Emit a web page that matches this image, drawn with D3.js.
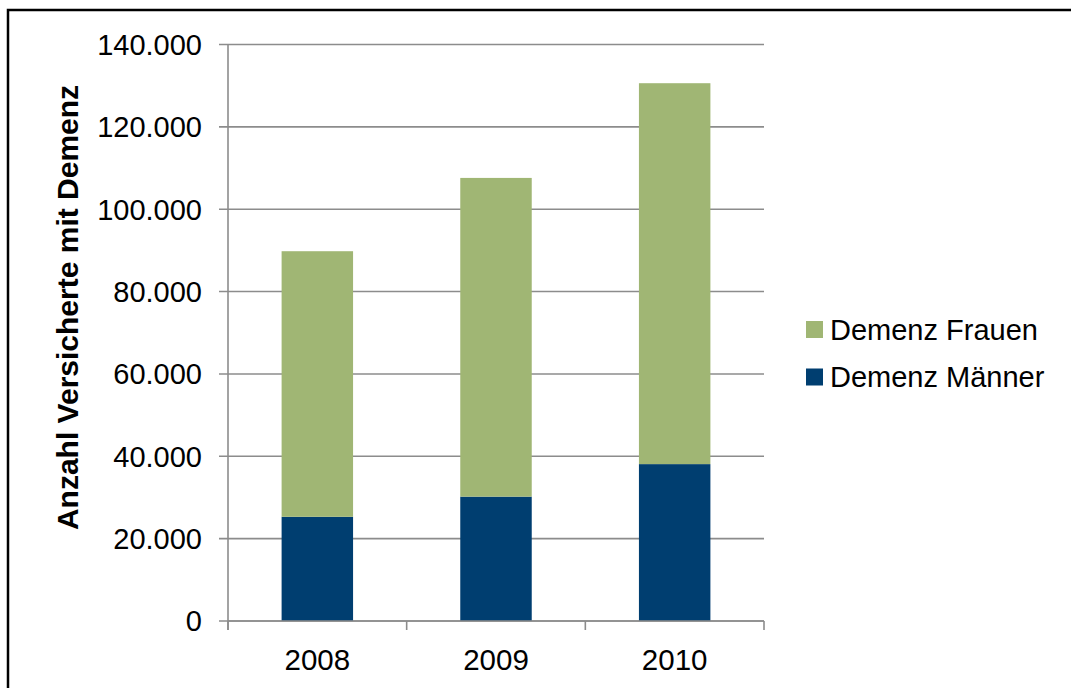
<!DOCTYPE html>
<html><head><meta charset="utf-8">
<script src="https://cdn.jsdelivr.net/npm/d3@7"></script>
<style>body{margin:0;background:#fff;} svg{display:block;font-family:"Liberation Sans",Arial,sans-serif;}</style>
</head><body>
<svg id="c" width="1071" height="688"></svg>
<script>
const years = ["2008","2009","2010"];
const maenner = [25300, 30200, 38100];
const frauen = [64500, 77400, 92500];
const seriesNames = ["Demenz Männer","Demenz Frauen"];
const seriesColors = ["#003E70","#A0B674"];
const yTicks = [0,20000,40000,60000,80000,100000,120000,140000];
const yTitle = "Anzahl Versicherte mit Demenz";

const svg = d3.select("#c");
svg.append("rect").attr("x",8).attr("y",10).attr("width",1080).attr("height",700)
  .attr("fill","#fff").attr("stroke","#000").attr("stroke-width",2.5);

const L=228,R=764,T=44.5,B=621;
const x = d3.scaleBand().domain(years).range([L,R]).paddingInner(0.6).paddingOuter(0.3);
const y = d3.scaleLinear().domain([0,140000]).range([B,T]);
const fmt = d => d===0 ? "0" : d3.format(",")(d).replace(/,/g,".");

// gridlines
svg.append("g").selectAll("line").data(yTicks).join("line")
  .attr("x1",L-9).attr("x2",R).attr("y1",d=>y(d)).attr("y2",d=>y(d))
  .attr("stroke","#8c8c8c").attr("stroke-width",1.6);

// stacked bars
const rows = years.map((yr,i)=>({year:yr,"Demenz Männer":maenner[i],"Demenz Frauen":frauen[i]}));
const stack = d3.stack().keys(seriesNames)(rows);
svg.append("g").selectAll("g").data(stack).join("g")
  .attr("fill",(d,i)=>seriesColors[i])
  .selectAll("rect").data(d=>d).join("rect")
  .attr("x",d=>x(d.data.year)).attr("width",x.bandwidth())
  .attr("y",d=>y(d[1])).attr("height",d=>y(d[0])-y(d[1]));

// axes
svg.append("line").attr("x1",L).attr("x2",L).attr("y1",T).attr("y2",B+9)
  .attr("stroke","#8c8c8c").attr("stroke-width",1.6);
svg.append("line").attr("x1",L).attr("x2",R).attr("y1",B).attr("y2",B)
  .attr("stroke","#8c8c8c").attr("stroke-width",1.6);
const step = x.step();
svg.append("g").selectAll("line").data(d3.range(years.length+1)).join("line")
  .attr("x1",d=>L+d*step).attr("x2",d=>L+d*step).attr("y1",B).attr("y2",B+9)
  .attr("stroke","#8c8c8c").attr("stroke-width",1.6);

// y tick labels
svg.append("g").selectAll("text").data(yTicks).join("text")
  .attr("x",202).attr("y",d=>y(d)).attr("dy","0.36em").attr("text-anchor","end")
  .attr("font-size",29).attr("fill","#000").text(fmt);

// x labels
svg.append("g").selectAll("text").data(years).join("text")
  .attr("x",d=>x(d)+x.bandwidth()/2).attr("y",670).attr("text-anchor","middle")
  .attr("font-size",29.5).attr("fill","#000").text(d=>d);

// y title
svg.append("text").attr("transform","translate(78,307.5) rotate(-90)")
  .attr("text-anchor","middle").attr("font-size",30).attr("font-weight","bold")
  .attr("fill","#000").text(yTitle);

// legend
const legend = [{name:"Demenz Frauen",color:seriesColors[1]},{name:"Demenz Männer",color:seriesColors[0]}];
const lg = svg.append("g").selectAll("g").data(legend).join("g")
  .attr("transform",(d,i)=>`translate(806,${321+i*47.5})`);
lg.append("rect").attr("width",17).attr("height",17).attr("fill",d=>d.color);
lg.append("text").attr("x",24).attr("y",18.5).attr("font-size",29).attr("fill","#000").text(d=>d.name);
</script>
</body></html>
